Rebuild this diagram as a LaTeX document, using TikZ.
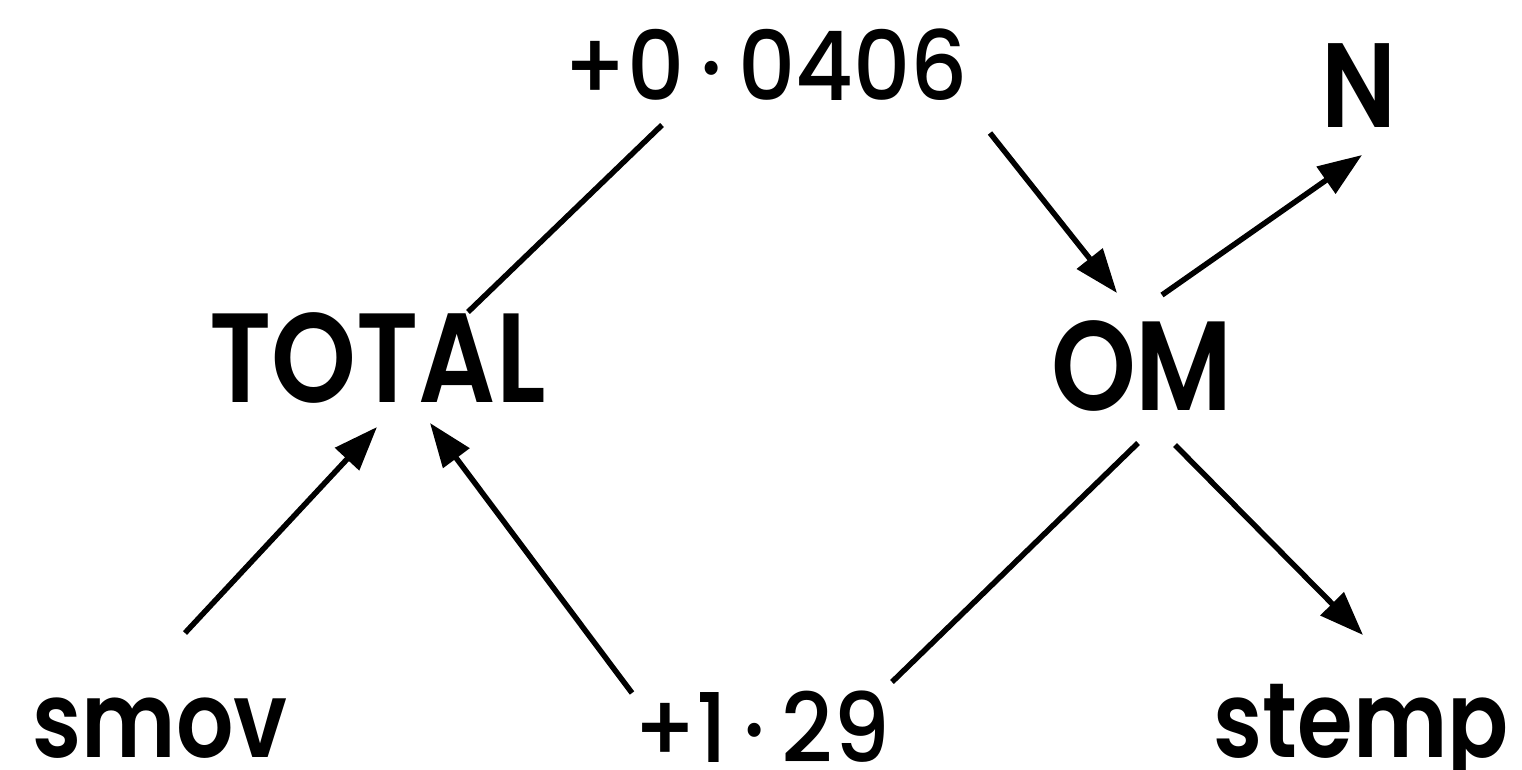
\documentclass[tikz,border=0pt]{standalone}
\usepackage{fontspec}
\setmainfont{Poppins}
\newfontfamily\bigf{Poppins}[UprightFont=* SemiBold, FakeStretch=0.85]
\newfontfamily\numf{Poppins}[UprightFont=* Medium, FakeStretch=0.93]
\usetikzlibrary{arrows.meta}
\begin{document}
\begin{tikzpicture}[x=1pt,y=-1pt,
  lbl/.style={inner sep=0pt, outer sep=0pt, anchor=base},
  bigl/.style={lbl, font=\bigf\fontsize{127}{130}\selectfont},
  nl/.style={lbl, font=\bigf\fontsize{120}{124}\selectfont},
  lowl/.style={lbl, text depth=0pt, font=\bigf\fontsize{106}{110}\selectfont},
  numl/.style={lbl, text depth=0pt, font=\numf\fontsize{96}{100}\selectfont},
  conn/.style={line width=5.5pt},
  arr/.style={conn, -{Triangle[length=44pt,width=32pt]}}]
\useasboundingbox (0,0) rectangle (1522,769);
\fill[white] (0,0) rectangle (1522,769);
\node[numl] (c0406) at (766,100) {+0\,·\,0406};
\node[nl] (N) at (1359,127) {N};
\node[bigl] (TOTAL) at (377.5,402) {TOTAL};
\node[bigl] (OM) at (1142,410) {OM};
\node[lowl] (smov) at (160,757) {smov};
\node[numl] (c129) at (761.5,762) {+1\,·\,29};
\node[lowl] (stemp) at (1361,757) {stemp};
% connectors
\draw[conn] ([shift={(90.5,-90)}]TOTAL.base) -- ([shift={(-104,25)}]c0406.base);
\draw[arr] ([shift={(224,33)}]c0406.base) -- ([shift={(-25,-117)}]OM.base);
\draw[arr] ([shift={(20,-115)}]OM.base) -- ([shift={(3,28)}]N.base);
\draw[arr] ([shift={(25,-124)}]smov.base) -- ([shift={(-0.5,25)}]TOTAL.base);
\draw[arr] ([shift={(-129.5,-69)}]c129.base) -- ([shift={(52.5,21)}]TOTAL.base);
\draw[conn] ([shift={(-4,33)}]OM.base) -- ([shift={(130.5,-80)}]c129.base);
\draw[arr] ([shift={(33,35)}]OM.base) -- ([shift={(2,-122)}]stemp.base);
\end{tikzpicture}
\end{document}
